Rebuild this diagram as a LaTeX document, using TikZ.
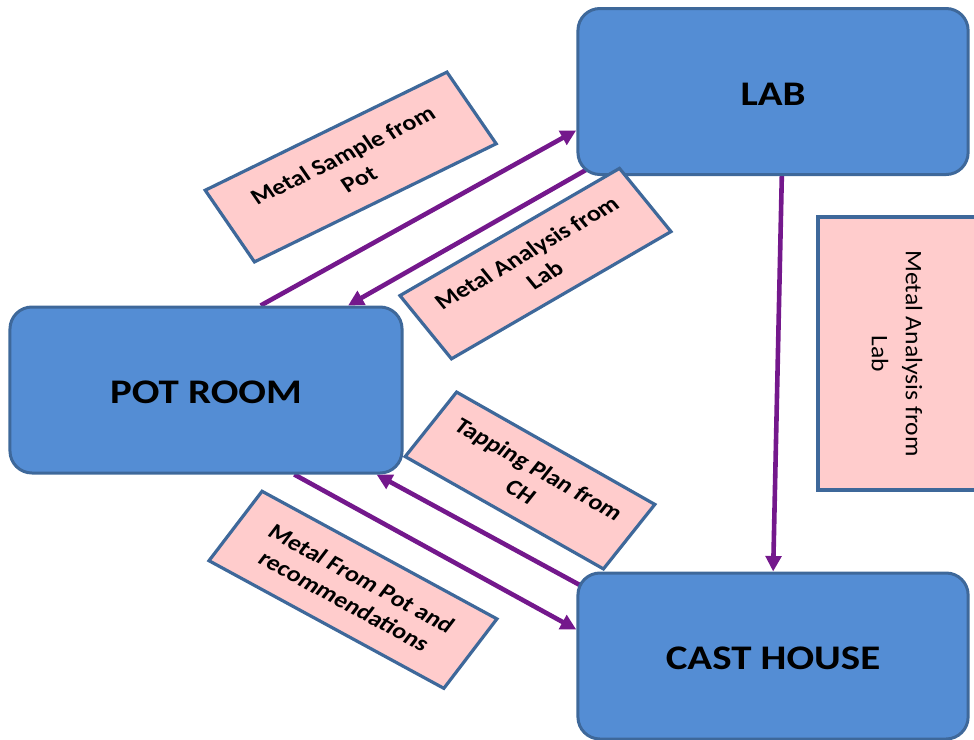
\documentclass[tikz,border=0pt]{standalone}
\usepackage{fontspec}
\setmainfont{Carlito}
\usetikzlibrary{arrows.meta,calc,backgrounds}
\definecolor{boxblue}{RGB}{84,141,212}
\definecolor{edgeblue}{RGB}{62,104,154}
\definecolor{labelpink}{RGB}{255,204,204}
\definecolor{flowpurple}{RGB}{116,24,140}
\begin{document}
\begin{tikzpicture}[x=1pt,y=-1pt,xscale=1.186,transform shape,
  place/.style={draw=edgeblue, line width=3pt, fill=boxblue, rounded corners=22pt,
    minimum width=329pt, minimum height=166pt, inner sep=0pt,
    text height=27.5pt, text depth=0pt,
    font=\fontsize{34.5}{40}\selectfont\bfseries},
  tag/.style={draw=edgeblue, line width=3.2pt, fill=labelpink, inner sep=0pt,
    align=center, font=\fontsize{22}{27}\selectfont\bfseries},
  flow/.style={draw=flowpurple, line width=4.6pt, -{Triangle[length=15.5pt,width=15.5pt]}}]
\useasboundingbox (0,0) rectangle (821.25,740);
% places
\node[place] (lab) at (651.8,91.5) {LAB};
\node[place, minimum width=330.6pt] (pot) at (173.7,390) {POT ROOM};
\node[place] (cast) at (651.8,656) {CAST HOUSE};
% flows
\begin{scope}[on background layer]
\draw[flow] ($(pot.north west)!0.638!(pot.north east)$) -- ($(lab.north west)!0.73!(lab.south west)$);
\draw[flow] ($(lab.south west)+(11.5,-8.3)$) -- ($(pot.north west)!0.859!(pot.north east)$);
\draw[flow] ($(lab.south west)!0.522!(lab.south east)$) -- (cast.north);
\draw[flow] ($(cast.north west)+(7.3,16.3)$) -- ($(pot.south west)!0.931!(pot.south east)$);
\draw[flow] ($(pot.south west)!0.723!(pot.south east)$) -- ($(cast.north west)!0.343!(cast.south west)$);
\end{scope}
% labels
\node[tag, minimum width=235.6pt, minimum height=82.8pt, rotate=30.1] (t1) at (295.7,167) {Metal Sample from\\Pot};
\node[tag, minimum width=224.6pt, minimum height=76.7pt, rotate=34.5] (t2) at (451.5,263.6) {Metal Analysis from\\Lab};
\node[tag, minimum width=201.4pt, minimum height=77.7pt, rotate=-33.9] (t3) at (446.9,480.5) {Tapping Plan from\\CH};
\node[tag, minimum width=235.6pt, minimum height=82.6pt, rotate=-32.8] (t4) at (297.6,589.8) {Metal From Pot and\\recommendations};
\node[tag, minimum width=273pt, minimum height=133.2pt, rotate=-90, font=\fontsize{20}{28.7}\selectfont] (t5) at (756.3,353.5) {\scalebox{1.28}[1]{Metal Analysis from}\\\scalebox{1.28}[1]{Lab}};
\end{tikzpicture}
\end{document}
